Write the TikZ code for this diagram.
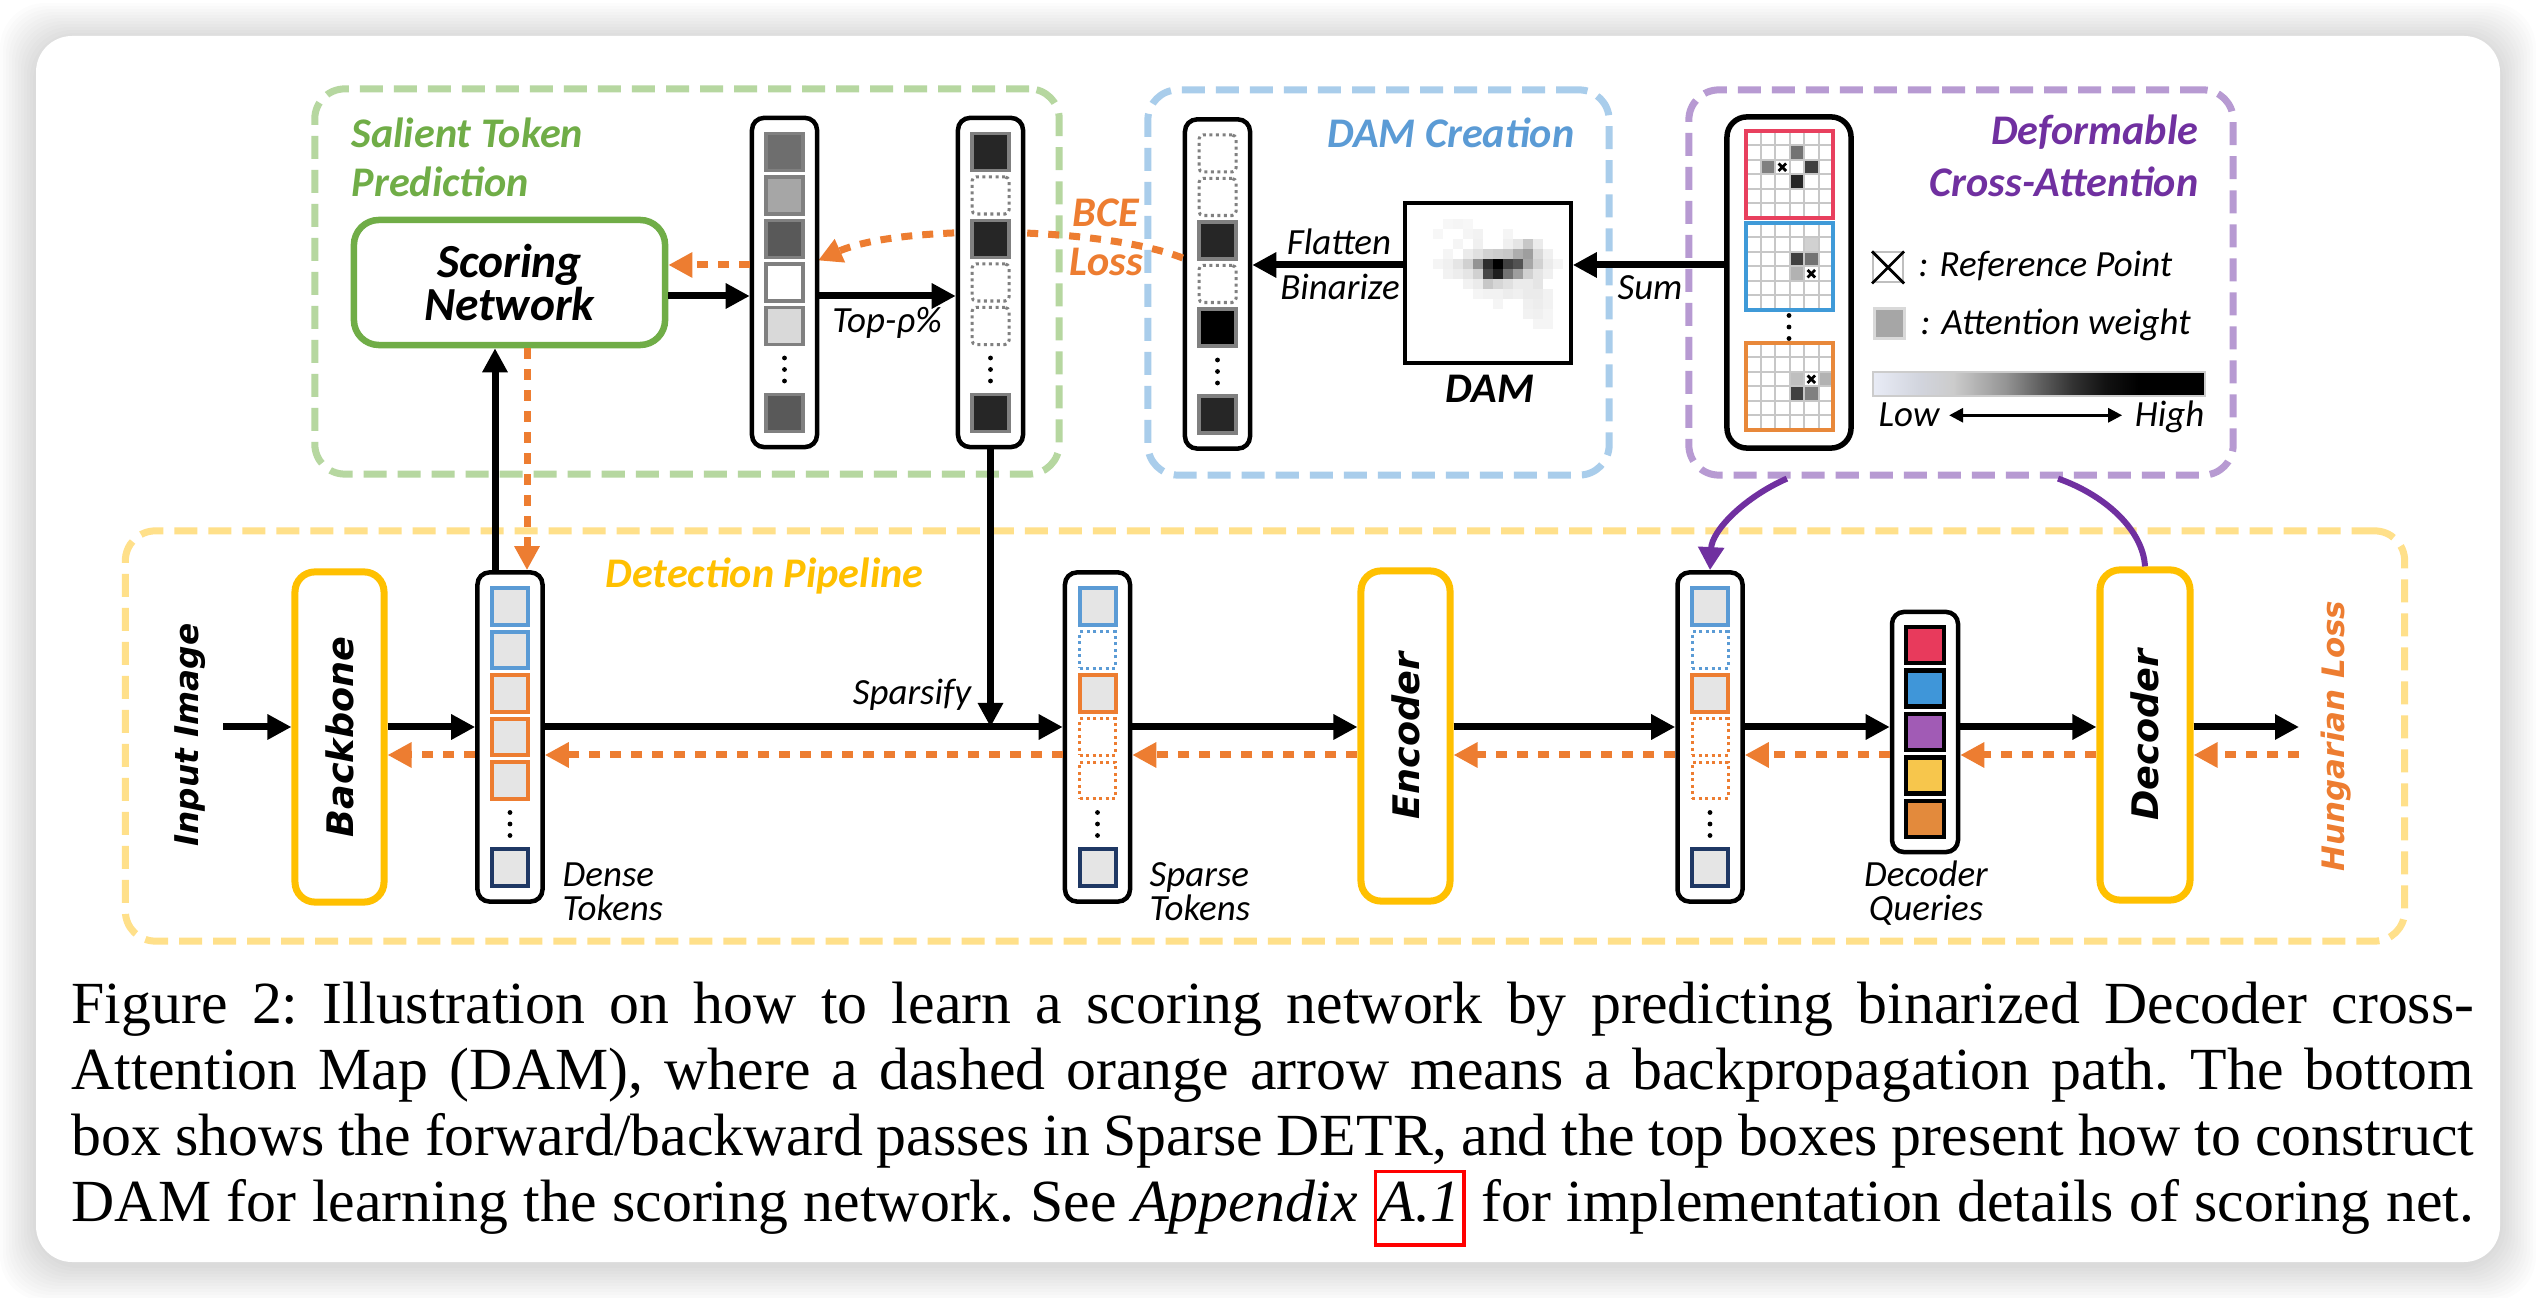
\documentclass[tikz,border=0pt]{standalone}
\usepackage{fontspec}
\usepackage{graphicx}
\usetikzlibrary{positioning,arrows.meta,calc}
\newfontfamily\calfont{Carlito}
\newfontfamily\dejafont{DejaVu Sans}
\newfontfamily\capserif{Liberation Serif}
\definecolor{salgreen}{HTML}{70AD47}
\definecolor{salgreenl}{HTML}{B6D7A0}
\definecolor{damblue}{HTML}{5B9BD5}
\definecolor{damebluel}{HTML}{A9CDEB}
\definecolor{dcapurple}{HTML}{7030A0}
\definecolor{dcapurplel}{HTML}{B79AD2}
\definecolor{detgold}{HTML}{FFC000}
\definecolor{detgoldl}{HTML}{FFE08A}
\definecolor{bporange}{HTML}{ED7D31}
\definecolor{tokblue}{HTML}{5B9BD5}
\definecolor{tokorange}{HTML}{ED7D31}
\definecolor{toknavy}{HTML}{1F3864}
\definecolor{qred}{HTML}{E83A5C}
\definecolor{qblue}{HTML}{3F96D9}
\definecolor{qpurple}{HTML}{A15BB5}
\definecolor{qyellow}{HTML}{F7C64C}
\definecolor{qorange}{HTML}{E38A3C}
\definecolor{attred}{HTML}{E8405E}
\definecolor{attblue}{HTML}{3F9AD8}
\definecolor{attorange}{HTML}{E8883A}
\definecolor{lowc}{HTML}{E9ECF6}
\pgfdeclarehorizontalshading{attnbar}{100bp}{color(0bp)=(lowc); color(25bp)=(lowc); color(32bp)=(lowc!90!black); color(37bp)=(black!20); color(45bp)=(black!42); color(50bp)=(black!62); color(55bp)=(black!80); color(60bp)=(black!93); color(65bp)=(black); color(100bp)=(black)}
\newcommand\ttlfont{\calfont\bfseries\itshape\fontsize{12}{14}\selectfont}
\newcommand\lblfont{\calfont\itshape\fontsize{10.5}{9.6}\selectfont\lineskiplimit=-\maxdimen}
\newcommand\scnfont{\calfont\bfseries\itshape\fontsize{13.5}{12.3}\selectfont\lineskiplimit=-\maxdimen}
\newcommand\blkfont{\dejafont\bfseries\itshape\fontsize{10.4}{12}\selectfont}
\newcommand\reflink[1]{{\setlength\fboxsep{0.5pt}\setlength\fboxrule{1pt}\color{red}\fbox{\color{black}\strut#1}}}

\begin{document}
\begin{tikzpicture}[x=0.01cm, y=-0.01cm,
    grpbox/.style={line width=0.07cm, dash pattern=on 0.23cm off 0.11cm, rounded corners=0.3cm, inner sep=0},
    ttl/.style={font=\ttlfont, inner sep=0},
    lbl/.style={font=\lblfont, inner sep=0},
    tokcol/.style={draw, line width=0.045cm, rounded corners=0.12cm, fill=white, inner sep=0,
      minimum width=6.5mm, minimum height=32.9mm},
    blk/.style={draw=detgold, line width=0.07cm, rounded corners=0.2cm, fill=white, inner sep=0,
      minimum width=8.9mm, minimum height=33mm, font=\blkfont},
    sccell/.style={draw=black!50, line width=0.035cm, minimum size=3.7mm, inner sep=0},
    scA/.style={sccell, fill=black!57},
    scB/.style={sccell, fill=black!35},
    scC/.style={sccell, fill=black!65},
    scD/.style={sccell, fill=white},
    scE/.style={sccell, fill=black!15},
    darkc/.style={sccell, fill=black!85},
    blackc/.style={sccell, fill=black},
    dotc/.style={draw=black!50, line width=0.03cm, densely dotted, rounded corners=0.04cm, minimum size=3.7mm, inner sep=0},
    tcell/.style={fill=black!10, line width=0.04cm, minimum size=3.6mm, inner sep=0},
    blueT/.style={tcell, draw=tokblue},
    orangeT/.style={tcell, draw=tokorange},
    navyT/.style={tcell, draw=toknavy},
    blueD/.style={draw=tokblue, line width=0.03cm, densely dotted, minimum size=3.6mm, inner sep=0},
    orangeD/.style={draw=tokorange, line width=0.03cm, densely dotted, minimum size=3.6mm, inner sep=0},
    qcell/.style={draw, line width=0.045cm, minimum width=3.8mm, minimum height=3.6mm, inner sep=0},
    gridln/.style={draw=black!22, line width=0.02cm},
    fwd/.style={line width=0.07cm, -{Triangle[length=0.24cm,width=0.24cm]}},
    bwd/.style={draw=bporange, line width=0.07cm, dash pattern=on 0.11cm off 0.1cm,
      -{Triangle[length=0.24cm,width=0.24cm]}},
    dcaline/.style={draw=dcapurple, line width=0.06cm},
    dcaarr/.style={dcaline, -{Triangle[length=0.23cm,width=0.25cm]}}]
  \useasboundingbox (0,0) rectangle (2536,1298);
  \fill[white] (0,0) rectangle (2536,1298);
  % card with soft shadow
  \foreach \i in {1,...,12}
    \fill[black, opacity=0.012, rounded corners=0.45cm] ({36-3*\i},{39-3*\i}) rectangle ({2500+3*\i},{1265+3*\i});
  \fill[white, rounded corners=0.36cm] (36,36) rectangle (2500,1262);

  % group boxes
  \node[grpbox, draw=salgreenl, minimum width=74.4mm, minimum height=38.5mm] (stp) at (687,281.5) {};
  \node[grpbox, draw=damebluel, minimum width=46.1mm, minimum height=38.5mm] (dam) at (1378.5,282.5) {};
  \node[grpbox, draw=dcapurplel, minimum width=54.4mm, minimum height=38.5mm] (dca) at (1961,282.5) {};
  \node[grpbox, draw=detgoldl, minimum width=227.8mm, minimum height=41mm] (det) at (1265,736) {};

  \node[ttl, text=salgreen, anchor=base west] (stpt1) at (351,148) {Salient Token};
  \node[ttl, text=salgreen, anchor=base west] (stpt2) at (351,197) {Prediction};
  \node[ttl, text=damblue, anchor=base east] (damt) at (1575,148) {DAM Creation};
  \node[ttl, text=dcapurple, anchor=base east] (dcat1) at (2199,145) {Deformable};
  \node[ttl, text=dcapurple, anchor=base east] (dcat2) at (2199,197) {Cross-Attention};
  \node[ttl, text=detgold, anchor=base west] (dett) at (605,588) {Detection Pipeline};

  % levels of the arrows
  \coordinate (topfy) at (0,296);
  \coordinate (topby) at (0,265);
  \coordinate (fwdy) at (0,727);
  \coordinate (bwdy) at (0,755);
  \coordinate (upx) at (495,0);
  \coordinate (dnx) at (527,0);
  \coordinate (inpt) at (223,727);
  \coordinate (outpt) at (2299,727);

  % BCE loss path (behind the columns)
  \node[tokcol] (damcol) at (1217.5,284) {};
  \draw[bwd] ([yshift=2.6mm]damcol.west) .. controls (1100,226) and (900,224) .. (818,260.5);

  % token columns
  \node[tokcol] (score) at (784.5,282.5) {};
  \node[tokcol] (topk) at (990.5,282.5) {};
  \node[tokcol] (dense) at (510,737) {};
  \node[tokcol] (sparse) at (1097.5,737) {};
  \node[tokcol] (encout) at (1710,737) {};
  \node[tokcol, minimum width=6.6mm, minimum height=24mm] (qry) at (1925,732) {};
  \node[tokcol, minimum width=12.4mm, minimum height=33.1mm, line width=0.055cm, rounded corners=0.2cm] (dcacol) at (1789,282.5) {};

  \foreach \k/\cs in {0/scA,1/scB,2/scC,3/scD,4/scE,6/scC}
    \node[\cs] (score-\k) at (784.5,{282.5+(\k-3)*43.5}) {};
  \foreach \k/\cs in {0/darkc,1/dotc,2/darkc,3/dotc,4/dotc,6/darkc}
    \node[\cs] (topk-\k) at (990.5,{282.5+(\k-3)*43.5}) {};
  \foreach \k/\cs in {0/dotc,1/dotc,2/darkc,3/dotc,4/blackc,6/darkc}
    \node[\cs] (damcol-\k) at (1217.5,{284+(\k-3)*43.5}) {};
  \foreach \k/\cs in {0/blueT,1/blueT,2/orangeT,3/orangeT,4/orangeT,6/navyT}
    \node[\cs] (dense-\k) at (510,{737+(\k-3)*43.5}) {};
  \foreach \k/\cs in {0/blueT,1/blueD,2/orangeT,3/orangeD,4/orangeD,6/navyT} {
    \node[\cs] (sparse-\k) at (1097.5,{737+(\k-3)*43.5}) {};
    \node[\cs] (encout-\k) at (1710,{737+(\k-3)*43.5}) {};
  }
  \foreach \k/\qc in {0/qred,1/qblue,2/qpurple,3/qyellow,4/qorange}
    \node[qcell, fill=\qc] (qry-\k) at (1925,{732+(\k-2)*43.6}) {};
  \foreach \cx/\cy in {784.5/369.5,990.5/369.5,1217.5/371.5,510/824,1097.5/824,1710/824,1789/327}
    \foreach \d in {-11.5,0,11.5}
      \fill (\cx,{\cy+\d}) circle[radius=2.4];

  % attention grids
  \foreach \gy/\c/\r/\v in {131/3/1/55,131/1/2/50,131/4/2/75,131/3/3/85,
      223/4/1/18,223/3/2/75,223/4/2/55,223/3/3/30,
      343/3/2/25,343/5/2/30,343/3/3/75,343/4/3/50}
    \fill[black!\v] ({1746+14.5*\c},{\gy+14.5*\r}) rectangle ++(14.5,14.5);
  \foreach \gy/\gc in {131/attred,223/attblue,343/attorange} {
    \foreach \i in {1,...,5} {
      \draw[gridln] ({1746+14.5*\i},\gy) -- ++(0,87);
      \draw[gridln] (1746,{\gy+14.5*\i}) -- ++(87,0);
    }
    \draw[draw=\gc, line width=0.035cm] (1746,\gy) rectangle ++(87,87);
  }
  \foreach \gy/\c/\r in {131/2/2,223/4/3,343/4/2}
    \draw[line width=0.028cm] ({1746+14.5*\c+3.5},{\gy+14.5*\r+3.5}) -- ++(7.5,7.5)
      ({1746+14.5*\c+11},{\gy+14.5*\r+3.5}) -- ++(-7.5,7.5);

  % legend
  \node[draw=black!25, line width=0.02cm, fill=white, minimum size=3mm, inner sep=0] (refbox) at (1888,267.5) {};
  \draw[line width=0.028cm] (refbox.north west) -- (refbox.south east) (refbox.north east) -- (refbox.south west);
  \node[draw=black!15, line width=0.03cm, fill=black!35, minimum size=3mm, inner sep=0] (wbox) at (1889.5,324) {};
  \node[lbl, anchor=base west] (reft) at (1918,277) {: Reference Point};
  \node[lbl, anchor=base west] (wt) at (1920,335) {: Attention weight};
  \node[draw=black!20, line width=0.02cm, shade, shading=attnbar, minimum width=33.2mm, minimum height=2.4mm, inner sep=0] (bar) at (2039,384) {};
  \node[lbl, anchor=base west] (low) at (1878,427) {Low};
  \node[lbl, anchor=base east] (high) at (2205,427) {High};
  \draw[line width=0.03cm, {Triangle[length=0.14cm,width=0.14cm]}-{Triangle[length=0.14cm,width=0.14cm]},
    shorten <=0.9mm, shorten >=1.2mm] (low.east) -- (low.east -| high.west);

  % DAM map
  \node[draw, line width=0.035cm, fill=white, minimum width=16.6mm, minimum height=16mm, inner sep=0] (dammap) at (1488,283) {};
  \foreach \i/\j/\v in {3/1/3,4/1/4,5/1/3,2/2/3,5/2/4,6/2/5,9/2/4,
      4/3/4,6/3/6,9/3/6,10/3/10,11/3/22,12/3/8,
      3/4/4,5/4/8,6/4/12,7/4/18,8/4/20,9/4/22,10/4/32,11/4/38,12/4/15,13/4/6,
      2/5/4,3/5/6,4/5/10,5/5/18,6/5/42,7/5/82,8/5/100,9/5/75,10/5/68,11/5/35,12/5/18,13/5/8,14/5/4,
      3/6/5,4/6/7,5/6/10,6/6/18,7/6/72,8/6/88,9/6/55,10/6/38,11/6/18,12/6/10,13/6/6,
      5/7/5,6/7/8,7/7/22,8/7/16,9/7/12,10/7/8,11/7/8,12/7/10,
      6/8/4,7/8/5,8/8/5,9/8/7,10/8/6,11/8/8,12/8/8,13/8/5,
      8/9/4,11/9/6,12/9/7,13/9/5,11/10/5,12/10/6,13/10/4,12/11/4,13/11/4}
    \fill[black!\v] ({1413+10*\i},{209+10*\j}) rectangle ++(10,10);
  \node[font=\ttlfont, inner sep=0, anchor=base] (damlbl) at (1490,403) {DAM};

  % scoring network and blocks
  \node[draw=salgreen, line width=0.065cm, rounded corners=0.25cm, fill=white, inner sep=0,
    minimum width=31.1mm, minimum height=12.5mm, align=center, font=\scnfont] (scn) at (509.5,282.5) {Scoring\\Network};
  \node[blk] (bb) at (339.5,737) {\rotatebox{90}{Backbone}};
  \node[blk] (enc) at (1405.5,736) {\rotatebox{90}{Encoder}};
  \node[blk, minimum width=9mm] (dec) at (2145,735) {\rotatebox{90}{Decoder}};
  \node[inner sep=0, font=\blkfont\fontsize{9.3}{11}\selectfont] (inimg) at (190,735) {\rotatebox{90}{Input Image}};
  \node[inner sep=0, text=bporange, font=\blkfont\fontsize{8.8}{10}\selectfont] (hloss) at (2336,736) {\rotatebox{90}{Hungarian Loss}};

  % top arrows
  \draw[fwd] (scn.east |- topfy) -- (score.west |- topfy);
  \draw[bwd] (score.west |- topby) -- (scn.east |- topby);
  \draw[fwd] (score.east |- topfy) -- (topk.west |- topfy);
  \draw[fwd] (dcacol.west |- topby) -- (dammap.east |- topby);
  \draw[fwd] (dammap.west |- topby) -- (damcol.east |- topby);
  \draw[fwd] (dense.north -| upx) -- (scn.south -| upx);
  \draw[bwd] (scn.south -| dnx) -- (dense.north -| dnx);
  \draw[fwd] (topk.south) -- (topk.south |- fwdy);

  % forward pass
  \draw[fwd] (inpt) -- (bb.west |- fwdy);
  \draw[fwd] (bb.east |- fwdy) -- (dense.west |- fwdy);
  \draw[fwd] (dense.east |- fwdy) -- (sparse.west |- fwdy);
  \draw[fwd] (sparse.east |- fwdy) -- (enc.west |- fwdy);
  \draw[fwd] (enc.east |- fwdy) -- (encout.west |- fwdy);
  \draw[fwd] (encout.east |- fwdy) -- (qry.west |- fwdy);
  \draw[fwd] (qry.east |- fwdy) -- (dec.west |- fwdy);
  \draw[fwd] (dec.east |- fwdy) -- (outpt);

  % backward pass
  \draw[bwd] (outpt |- bwdy) -- (dec.east |- bwdy);
  \draw[bwd] (dec.west |- bwdy) -- (qry.east |- bwdy);
  \draw[bwd] (qry.west |- bwdy) -- (encout.east |- bwdy);
  \draw[bwd] (encout.west |- bwdy) -- (enc.east |- bwdy);
  \draw[bwd] (enc.west |- bwdy) -- (sparse.east |- bwdy);
  \draw[bwd] (sparse.west |- bwdy) -- (dense.east |- bwdy);
  \draw[bwd] (dense.west |- bwdy) -- (bb.east |- bwdy);

  % deformable attention links
  \draw[dcaarr] ([xshift=-17.4mm]dca.south) .. controls (1745,497) and (1712,530) .. (encout.north);
  \draw[dcaline] (dec.north) .. controls (2143,530) and (2105,495) .. ([xshift=9.7mm]dca.south);

  % labels
  \node[ttl, text=bporange, anchor=base] (bce1) at (1106,227) {BCE};
  \node[ttl, text=bporange, anchor=base] (bce2) at (1106,276) {Loss};
  \node[lbl, anchor=base] (topr) at (887,333) {Top-ρ\%};
  \node[lbl, anchor=base] (flat) at (1339,255) {Flatten};
  \node[lbl, anchor=base] (bina) at (1340,300) {Binarize};
  \node[lbl, anchor=base] (sumt) at (1650,300) {Sum};
  \node[lbl, anchor=base] (spy) at (912,705) {Sparsify};
  \node[lbl, anchor=north west, align=left] (dns) at (562,862) {Dense\\Tokens};
  \node[lbl, anchor=north west, align=left] (sps) at (1149,862) {Sparse\\Tokens};
  \node[lbl, anchor=north, align=center] (dq) at (1926,860) {Decoder\\Queries};

  % caption
  \node[anchor=north west, inner sep=0, text width=24.01cm, align=justify,
    font=\capserif\fontsize{17}{18.8}\selectfont] (cap) at (71,981)
    {\noindent\frenchspacing\hyphenpenalty=10000\parfillskip=0pt
    Figure 2: Illustration on how to learn a scoring network by predicting binarized Decoder cross-\linebreak
    Attention Map (DAM), where a dashed orange arrow means a backpropagation path. The bottom\linebreak
    box shows the forward/backward passes in Sparse DETR, and the top boxes present how to construct\linebreak
    DAM for learning the scoring network. See \textit{Appendix} \reflink{\textit{A.1}} for implementation details of scoring net.\par};
\end{tikzpicture}
\end{document}
